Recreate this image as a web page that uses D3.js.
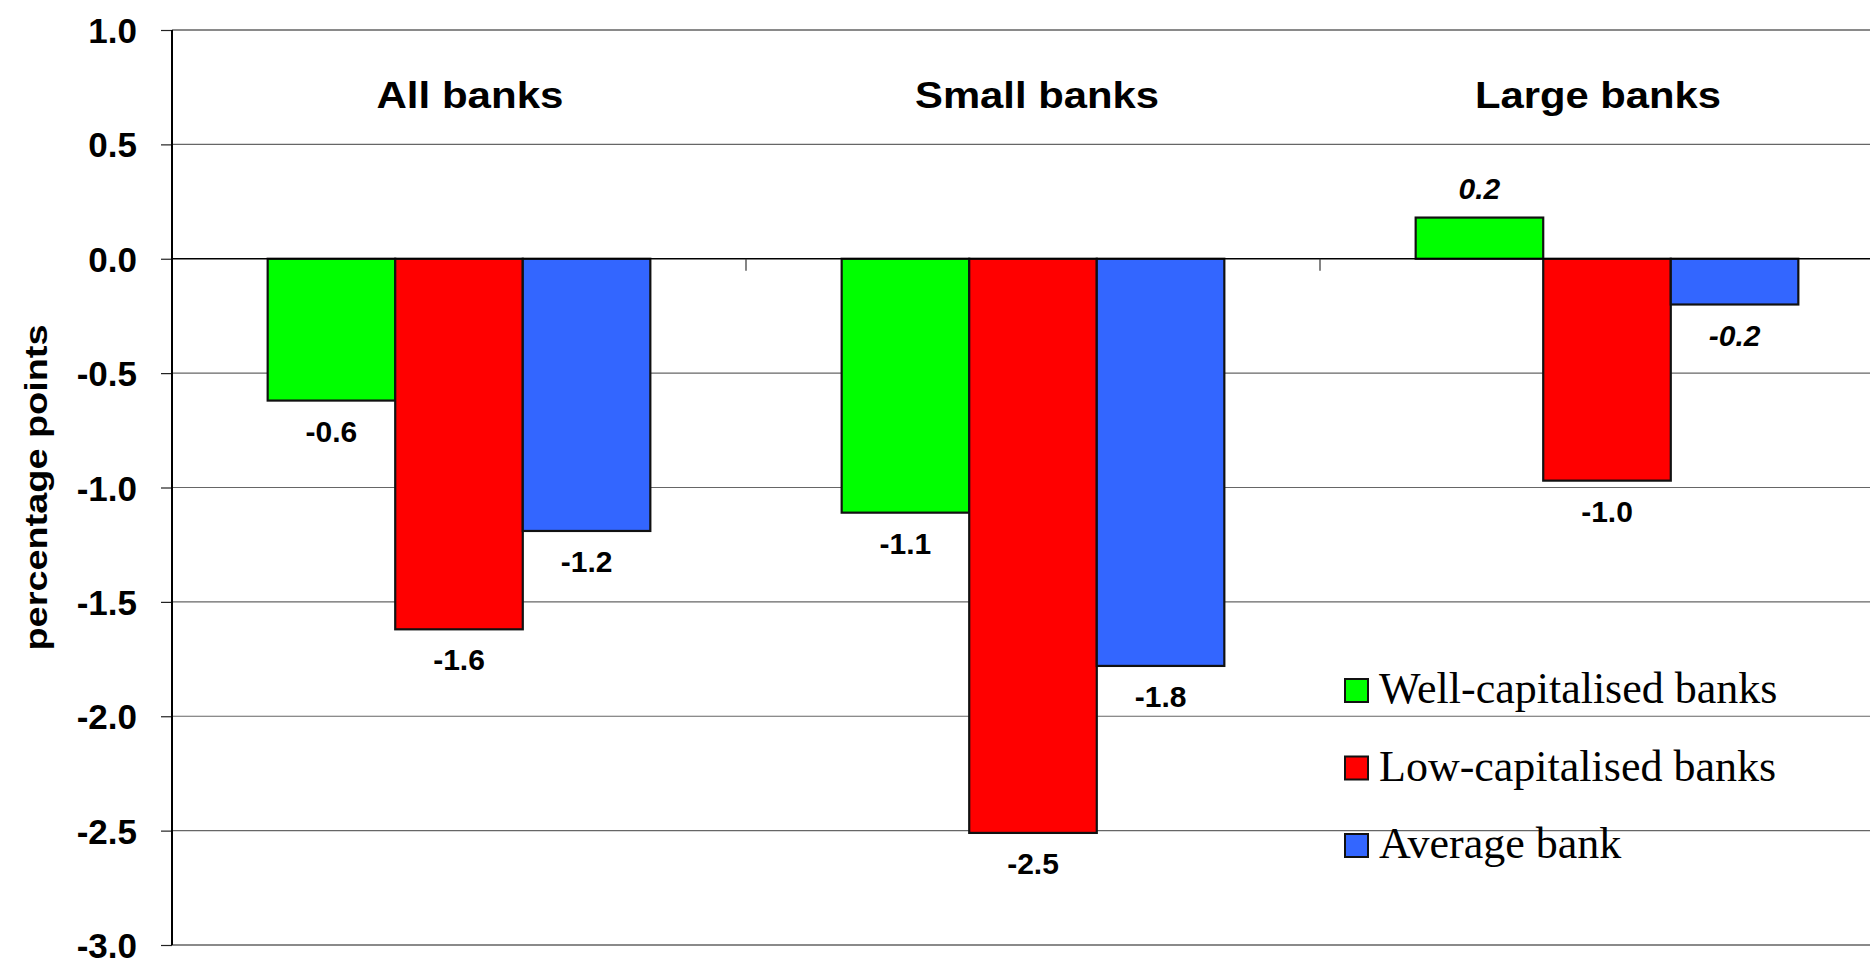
<!DOCTYPE html>
<html>
<head>
<meta charset="utf-8">
<script src="https://cdn.jsdelivr.net/npm/d3@7"></script>
<style>
  html, body { margin: 0; padding: 0; background: #ffffff; overflow: hidden; }
  svg { display: block; }
</style>
</head>
<body>
<svg id="chart" width="1870" height="958"></svg>
<script>
// ---- data ----
const categories = ["All banks", "Small banks", "Large banks"];
const seriesNames = ["Well-capitalised banks", "Low-capitalised banks", "Average bank"];
const wellCapitalised = [-0.62, -1.11, 0.18];
const lowCapitalised = [-1.62, -2.51, -0.97];
const averageBank = [-1.19, -1.78, -0.20];
const yTicks = [1.0, 0.5, 0.0, -0.5, -1.0, -1.5, -2.0, -2.5, -3.0];
const yLabel = "percentage points";
// labels shown in italics in the original (category index, series index)
const italicLabels = [[2, 0], [2, 2]];

// ---- styles ----
const colors = ["#00FF00", "#FF0000", "#3366FF"];
const sans = "'Liberation Sans', Arial, Helvetica, sans-serif";
const serif = "'Liberation Serif', 'Times New Roman', serif";
const fmt = d3.formatLocale({ decimal: ".", thousands: ",", grouping: [3], currency: ["", ""], minus: "-" }).format(".1f");

const svg = d3.select("#chart");
const W = 1870;
const pLeft = 172, pRight = 1894, pTop = 30, pBottom = 945;

const x = d3.scaleBand().domain(categories).range([pLeft, pRight]).paddingInner(0).paddingOuter(0);
const xs = d3.scaleBand().domain(seriesNames).range([0, x.bandwidth()]).paddingInner(0).paddingOuter(0.75);
const y = d3.scaleLinear().domain([-3, 1]).range([pBottom, pTop]);

const seriesValues = [wellCapitalised, lowCapitalised, averageBank];
const rows = [];
categories.forEach((c, ci) => {
  seriesNames.forEach((s, si) => {
    rows.push({ cat: c, ci, series: s, si, value: seriesValues[si][ci] });
  });
});

// gridlines
const grid = svg.append("g");
grid.selectAll("line").data(yTicks.filter(v => v !== 0)).enter().append("line")
  .attr("x1", pLeft).attr("x2", W)
  .attr("y1", d => y(d)).attr("y2", d => y(d))
  .attr("stroke", d => (d === 1 || d === -3) ? "#8a8a8a" : "#666666")
  .attr("stroke-width", d => (d === 1 || d === -3) ? 2 : 1.2);

// y axis with ticks
const yAxis = d3.axisLeft(y).tickValues(yTicks).tickSize(11).tickPadding(24)
  .tickFormat(fmt);
const ya = svg.append("g").attr("transform", `translate(${pLeft},0)`).call(yAxis);
ya.select(".domain").remove();
ya.selectAll(".tick line").attr("stroke", "#222").attr("stroke-width", 1.2);
ya.selectAll(".tick text")
  .attr("font-family", sans).attr("font-weight", "bold").attr("font-size", 35)
  .attr("fill", "#000").attr("dy", "0.36em");

// bars
svg.append("g").selectAll("rect").data(rows).enter().append("rect")
  .attr("x", d => x(d.cat) + xs(d.series))
  .attr("width", xs.bandwidth())
  .attr("y", d => y(Math.max(0, d.value)))
  .attr("height", d => Math.abs(y(d.value) - y(0)))
  .attr("fill", d => colors[d.si])
  .attr("stroke", "#111").attr("stroke-width", 2.2);

// zero line & category ticks
svg.append("line").attr("x1", pLeft).attr("x2", W).attr("y1", y(0)).attr("y2", y(0))
  .attr("stroke", "#000").attr("stroke-width", 1.5);
svg.append("g").selectAll("line").data(categories.slice(1)).enter().append("line")
  .attr("x1", d => x(d)).attr("x2", d => x(d))
  .attr("y1", y(0)).attr("y2", y(0) + 12)
  .attr("stroke", "#333").attr("stroke-width", 1.2);

// y axis line
svg.append("line").attr("x1", pLeft).attr("x2", pLeft).attr("y1", pTop).attr("y2", pBottom)
  .attr("stroke", "#000").attr("stroke-width", 2);

// data labels
const isItalic = d => italicLabels.some(p => p[0] === d.ci && p[1] === d.si);
svg.append("g").selectAll("text").data(rows).enter().append("text")
  .attr("x", d => x(d.cat) + xs(d.series) + xs.bandwidth() / 2)
  .attr("y", d => d.value >= 0 ? y(d.value) - 19 : y(d.value) + 41)
  .attr("text-anchor", "middle")
  .attr("font-family", sans).attr("font-weight", "bold").attr("font-size", 30)
  .attr("font-style", d => isItalic(d) ? "italic" : "normal")
  .attr("fill", "#000")
  .text(d => fmt(d.value));

// category titles
const titleWidths = [187, 244, 246];
const titleShift = [11, 4, -9];
svg.append("g").selectAll("text").data(categories).enter().append("text")
  .attr("x", (d, i) => x(d) + x.bandwidth() / 2 + titleShift[i] - titleWidths[i] / 2)
  .attr("y", 108)
  .attr("font-family", sans).attr("font-weight", "bold").attr("font-size", 37)
  .attr("textLength", (d, i) => titleWidths[i])
  .attr("lengthAdjust", "spacingAndGlyphs")
  .attr("fill", "#000")
  .text(d => d);

// y-axis title
svg.append("text")
  .attr("transform", `translate(47,${(pTop + pBottom) / 2}) rotate(-90)`)
  .attr("x", -163).attr("y", 0)
  .attr("font-family", sans).attr("font-weight", "bold").attr("font-size", 32)
  .attr("textLength", 326).attr("lengthAdjust", "spacingAndGlyphs")
  .attr("fill", "#000")
  .text(yLabel);

// legend
const leg = svg.append("g").attr("transform", "translate(1345,703)");
const li = leg.selectAll("g").data(seriesNames).enter().append("g")
  .attr("transform", (d, i) => `translate(0,${i * 77.5})`);
li.append("rect").attr("x", 0).attr("y", -24).attr("width", 23).attr("height", 23)
  .attr("fill", (d, i) => colors[i]).attr("stroke", "#111").attr("stroke-width", 2);
li.append("text").attr("x", 34).attr("y", 0)
  .attr("font-family", serif).attr("font-size", 44).attr("fill", "#000")
  .text(d => d);
</script>
</body>
</html>
